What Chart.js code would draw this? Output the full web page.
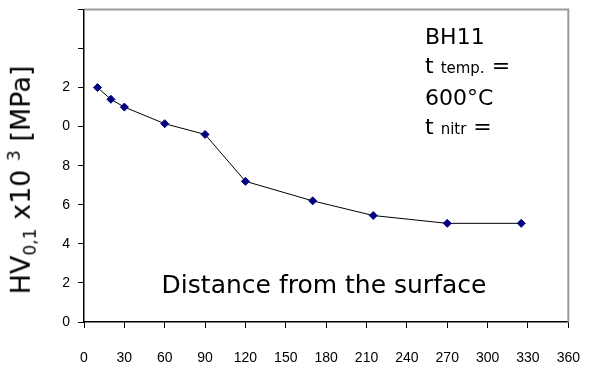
<!DOCTYPE html>
<html>
<head>
<meta charset="utf-8">
<script src="https://cdn.jsdelivr.net/npm/chart.js@4.4.1/dist/chart.umd.min.js"></script>
<style>
  body { margin: 0; background: #fff; }
  #wrap { position: relative; width: 599px; height: 374px; overflow: hidden; }
  #myChart { position: absolute; left: 0; top: -7px; }
  .txt { position: absolute; font-family: 'DejaVu Sans', Verdana, sans-serif; color: #000; white-space: nowrap; }
  #ytitle { left: 22px; top: 180px; font-size: 27px; transform: translate(-50%, -50%) rotate(-90deg); }
  #ytitle sub, #ytitle sup { font-size: 17px; }
  #note { left: 425px; top: 22px; font-size: 22px; line-height: 29px; }
  #note span { font-size: 15px; }
  #xtitle { left: 324px; top: 270px; font-size: 25px; transform: translateX(-50%); }
</style>
</head>
<body>
<div id="wrap">
  <canvas id="myChart" width="602" height="381"></canvas>
  <div class="txt" id="ytitle">HV<sub>0,1</sub> x10 <sup>3</sup> [MPa]</div>
  <div class="txt" id="note">BH11<br>t <span>temp.</span> =<br>600°C<br>t <span>nitr</span> =</div>
  <div class="txt" id="xtitle">Distance from the surface</div>
</div>
<script>
const distance = [10, 20, 30, 60, 90, 120, 170, 215, 270, 325];
const hardness = [12.0, 11.4, 11.0, 10.15, 9.6, 7.2, 6.2, 5.45, 5.05, 5.05];
const yTickLabels = ['0', '2', '4', '6', '8', '0', '2', '', ''];

const ctx = document.getElementById('myChart').getContext('2d');

// grey frame on top and right side, like the Excel plot area
const frame = {
    id: 'frame',
    afterDraw(chart) {
        const a = chart.chartArea;
        const c = chart.ctx;
        c.save();
        c.strokeStyle = '#999';
        c.lineWidth = 2;
        c.beginPath();
        c.moveTo(a.left, a.top);
        c.lineTo(a.right, a.top);
        c.lineTo(a.right, a.bottom);
        c.stroke();
        c.restore();
    }
};

new Chart(ctx, {
    type: 'line',
    data: {
        datasets: [{
            data: distance.map((d, i) => ({ x: d, y: hardness[i] })),
            borderColor: '#000',
            borderWidth: 1,
            pointStyle: 'rectRot',
            pointRadius: 4,
            pointBackgroundColor: '#000080',
            pointBorderColor: '#000080',
            tension: 0,
        }]
    },
    plugins: [frame],
    options: {
        responsive: false,
        animation: false,
        layout: { padding: { top: 2, right: 12, left: 0, bottom: 0 } },
        plugins: { legend: { display: false }, tooltip: { enabled: false } },
        scales: {
            x: {
                type: 'linear',
                min: 0, max: 360,
                afterFit: (s) => { s.height = 52; },
                ticks: {
                    stepSize: 30,
                    color: '#000',
                    padding: 22,
                    font: { family: "'Liberation Sans Narrow', 'Liberation Sans', sans-serif", size: 14 },
                },
                grid: { drawOnChartArea: false, color: '#000', tickLength: 6 },
                border: { color: '#000', width: 1.5 },
            },
            y: {
                min: 0, max: 16,
                afterFit: (s) => { s.width = 84; },
                ticks: {
                    stepSize: 2,
                    color: '#000',
                    padding: 8,
                    font: { family: "'Liberation Sans Narrow', 'Liberation Sans', sans-serif", size: 14 },
                    callback: (v, i) => yTickLabels[i],
                },
                grid: { drawOnChartArea: false, color: '#000', tickLength: 6 },
                border: { color: '#000', width: 1.5 },
            }
        }
    }
});
</script>
</body>
</html>
